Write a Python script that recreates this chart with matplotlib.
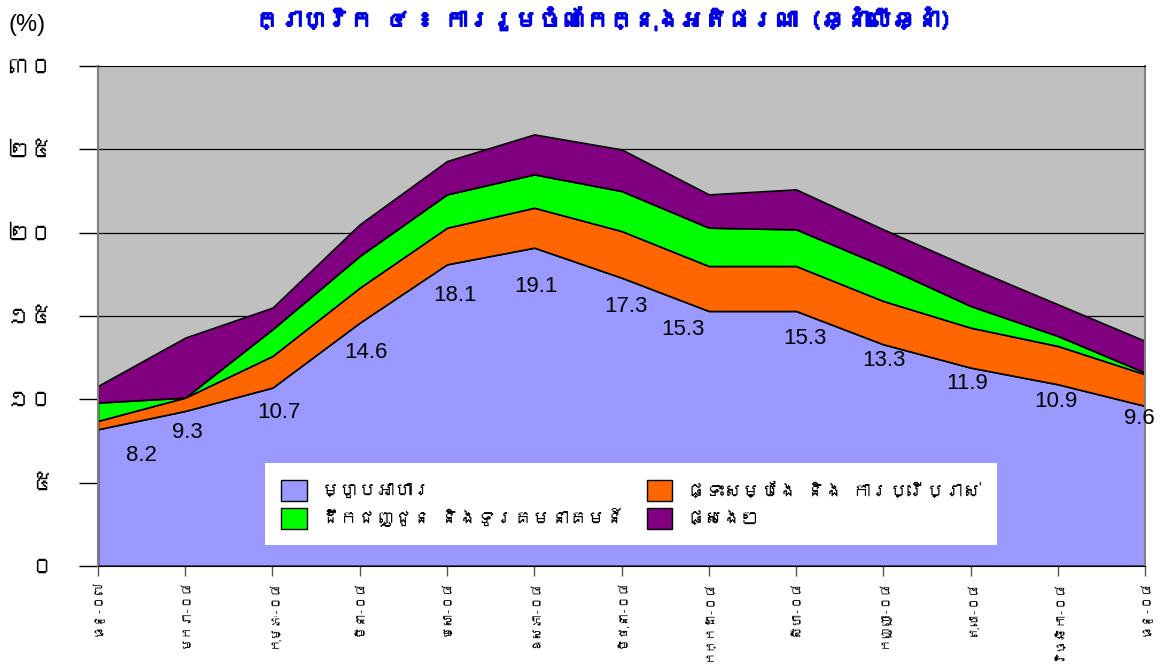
import matplotlib
matplotlib.use('Agg')
import matplotlib.pyplot as plt
from matplotlib import font_manager
from matplotlib.ft2font import FT2Font
from matplotlib.patches import Patch
import matplotlib.patheffects as pe
import numpy as np

title = 'ក្រាហ្វិក ៤ ៖ ការរួមចំណែកក្នុងអតិផរណា (ឆ្នាំលើឆ្នាំ)'
months = ['ធ្នូ-០៧', 'មករា-០៨', 'កុម្ភៈ-០៨', 'មីនា-០៨', 'មេសា-០៨', 'ឧសភា-០៨', 'មិថុនា-០៨',
          'កក្កដា-០៨', 'សីហា-០៨', 'កញ្ញា-០៨', 'តុលា-០៨', 'វិច្ឆិកា-០៨', 'ធ្នូ-០៨']
ytick_labels = ['០', '៥', '១០', '១៥', '២០', '២៥', '៣០']
series_names = ['ម្ហូបអាហារ', 'ផ្ទះសម្បែង និង ការប្រើប្រាស់', 'ដឹកជញ្ជូន និងទូរគមនាគមន៍', 'ផ្សេងៗ']

food = [8.2, 9.3, 10.7, 14.6, 18.1, 19.1, 17.3, 15.3, 15.3, 13.3, 11.9, 10.9, 9.6]
housing = [0.5, 0.8, 1.9, 2.1, 2.2, 2.4, 2.8, 2.7, 2.7, 2.6, 2.4, 2.3, 1.9]
transport = [1.1, 0.0, 1.6, 1.9, 2.0, 2.0, 2.4, 2.3, 2.2, 2.1, 1.3, 0.6, 0.1]
others = [1.0, 3.6, 1.3, 1.9, 2.0, 2.4, 2.5, 2.0, 2.4, 2.2, 2.3, 1.9, 1.9]

colors = ['#9999ff', '#ff6600', '#00ff00', '#800080']


def khmer_families():
    # look for any installed font that has Khmer glyphs
    found = []
    for f in font_manager.fontManager.ttflist:
        try:
            cmap = FT2Font(f.fname).get_charmap()
        except Exception:
            continue
        if 0x1780 in cmap and f.name not in found:
            found.append(f.name)
    return found


kh = khmer_families()
fam = kh + ['DejaVu Sans']
plt.rcParams['font.family'] = fam

fig = plt.figure(figsize=(11.72, 6.68), dpi=100)
ax = fig.add_axes([0.0836, 0.153, 0.8934, 0.748])
ax.set_facecolor('#c0c0c0')

x = np.arange(len(months))
ax.stackplot(x, food, housing, transport, others, colors=colors,
             edgecolor='black', linewidth=1.2)

ax.set_xlim(0, len(months) - 1)
ax.set_ylim(0, 30)
ax.set_yticks(range(0, 31, 5))
ax.set_yticklabels(ytick_labels, fontsize=17)
ax.set_xticks(x)
ax.set_xticklabels(months, rotation=90, fontsize=9, va='top', ha='center')

ax.tick_params(axis='y', length=14, width=1, pad=18, color='black')
ax.tick_params(axis='x', length=7, width=1, pad=3, color='#555555')
for yv in range(5, 30, 5):
    ax.axhline(yv, color='black', linewidth=0.9, zorder=0.5)
ax.spines['top'].set_color('black')
ax.spines['left'].set_color('#808080')
ax.spines['left'].set_linewidth(1.5)
ax.spines['right'].set_color('#808080')
ax.spines['right'].set_linewidth(1.5)
ax.spines['bottom'].set_color('black')

# value labels for food series (offsets in pixels)
offsets = [(43, -26), (2, -22), (6, -25), (6, -30), (8, -31), (2, -39), (4, -29),
           (-26, -19), (9, -28), (1, -16), (-3, -16), (-2, -17), (-6, -13)]
for i, v in enumerate(food):
    ax.annotate(f'{v:.1f}', (x[i], v), xytext=offsets[i], textcoords='offset pixels',
                ha='center', va='center', fontsize=16, family='Liberation Sans',
                color='black', zorder=5, annotation_clip=False)

handles = [Patch(facecolor=colors[0], edgecolor='black'),
           Patch(facecolor=colors[2], edgecolor='black'),
           Patch(facecolor=colors[1], edgecolor='black'),
           Patch(facecolor=colors[3], edgecolor='black')]
labels = [series_names[0], series_names[2], series_names[1], series_names[3]]
leg = ax.legend(handles, labels, ncol=2, loc='center',
                bbox_to_anchor=(0.509, 0.123),
                fontsize=13.2, frameon=True, fancybox=False, framealpha=1,
                handlelength=1.4, handleheight=1.4, labelspacing=0.35,
                columnspacing=1.2, borderpad=0.9, handletextpad=0.8)
leg.get_frame().set_edgecolor('white')
leg.get_frame().set_linewidth(0)

fig.text(0.515, 0.972, title, ha='center', va='center', fontsize=17,
         color='#0000e6',
         path_effects=[pe.withStroke(linewidth=1.2, foreground='#0000e6')])
fig.text(0.007, 0.962, '(%)', ha='left', va='center', fontsize=17,
         family='Liberation Sans', color='black')

fig.savefig('out.png', dpi=100)
